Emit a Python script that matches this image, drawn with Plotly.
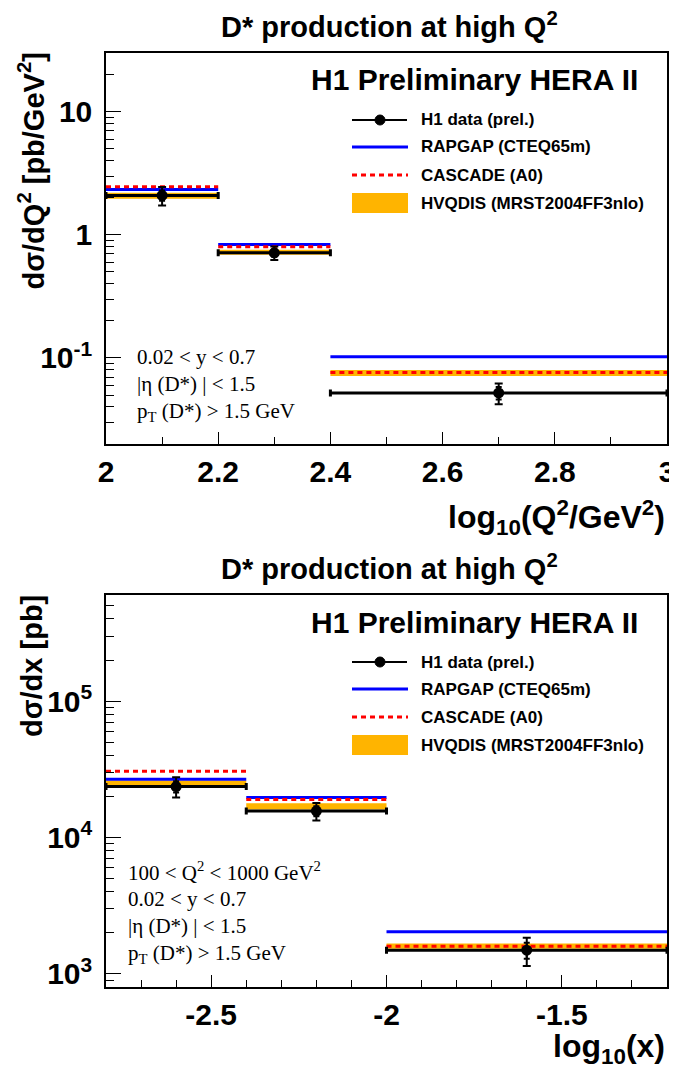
import plotly.graph_objects as go

# page body keeps an 8px default margin, so the figure is 8px smaller and coordinates are shifted
OFF = 8
W, H = 677 - OFF, 1079 - OFF

# ---------------- data ----------------
# top panel: dsigma/dQ^2 vs log10(Q^2)
q2_edges = [2.0, 2.2, 2.4, 3.0]
q2_centers = [2.1, 2.3, 2.7]
q2_data = [2.09, 0.714, 0.052]
q2_err_tot = [0.36, 0.09, 0.010]
q2_err_stat = [0.20, 0.05, 0.006]
q2_rapgap = [2.34, 0.834, 0.1025]
q2_cascade = [2.46, 0.80, 0.076]
q2_hvq_lo = [1.96, 0.69, 0.0714]
q2_hvq_hi = [2.20, 0.755, 0.0798]

# bottom panel: dsigma/dx vs log10(x)
x_edges = [-2.8, -2.4, -2.0, -1.2]
x_centers = [-2.6, -2.2, -1.6]
x_data = [23600, 15600, 1490]
x_err_tot = [4000, 2300, 350]
x_err_stat = [2200, 1300, 200]
x_rapgap = [26700, 19600, 2030]
x_cascade = [30600, 18960, 1593]
x_hvq_lo = [23900, 16000, 1525]
x_hvq_hi = [26100, 17800, 1667]

q2_ticks = [2.0, 2.2, 2.4, 2.6, 2.8, 3.0]
q2_tick_labels = ["2", "2.2", "2.4", "2.6", "2.8", "3"]
x_ticks = [-2.5, -2.0, -1.5]
x_tick_labels = ["-2.5", "-2", "-1.5"]
q2_yticks = [0.1, 1, 10]
q2_ytick_labels = ["10<sup>-1</sup>", "1", "10"]
x_yticks = [1e3, 1e4, 1e5]
x_ytick_labels = ["10<sup>3</sup>", "10<sup>4</sup>", "10<sup>5</sup>"]

legend_labels = ["H1 data (prel.)", "RAPGAP (CTEQ65m)", "CASCADE (A0)", "HVQDIS (MRST2004FF3nlo)"]

BLUE = "#0000ff"
RED = "#ff0000"
ORANGE = "#ffb400"
SANS = "Liberation Sans, Arial, Helvetica, sans-serif"
SERIF = "Liberation Serif, Times New Roman, serif"


def px(x):
    return (x - OFF) / W


def py(y):
    return 1 - (y - OFF) / H


def steps(edges, vals):
    xs, ys = [], []
    for i, v in enumerate(vals):
        xs += [edges[i], edges[i + 1], None]
        ys += [v, v, None]
    return xs, ys


def boxes(edges, lo, hi):
    xs, ys = [], []
    for i in range(len(lo)):
        a, b = edges[i], edges[i + 1]
        xs += [a, b, b, a, a, None]
        ys += [lo[i], lo[i], hi[i], hi[i], lo[i], None]
    return xs, ys


fig = go.Figure()


def add_panel(xa, ya, edges, centers, data, etot, estat, rap, cas, hlo, hhi):
    bx, by = boxes(edges, hlo, hhi)
    fig.add_trace(go.Scatter(x=bx, y=by, fill="toself", fillcolor=ORANGE, mode="none",
                             xaxis=xa, yaxis=ya, showlegend=False, hoverinfo="skip"))
    sx, sy = steps(edges, rap)
    fig.add_trace(go.Scatter(x=sx, y=sy, mode="lines", line=dict(color=BLUE, width=3),
                             xaxis=xa, yaxis=ya, showlegend=False))
    sx, sy = steps(edges, cas)
    fig.add_trace(go.Scatter(x=sx, y=sy, mode="lines", line=dict(color=RED, width=3, dash="5px,4px"),
                             xaxis=xa, yaxis=ya, showlegend=False))
    halfw = [(edges[i + 1] - edges[i]) / 2 for i in range(len(centers))]
    mids = [(edges[i + 1] + edges[i]) / 2 for i in range(len(centers))]
    # horizontal bin-width bars centred on bin middle
    fig.add_trace(go.Scatter(x=mids, y=data, mode="markers", marker=dict(size=1, color="black"),
                             error_x=dict(type="data", array=halfw, color="black", thickness=3, width=3.5),
                             xaxis=xa, yaxis=ya, showlegend=False))
    fig.add_trace(go.Scatter(x=centers, y=data, mode="markers", marker=dict(size=11, color="black"),
                             error_y=dict(type="data", array=etot, color="black", thickness=2, width=4),
                             xaxis=xa, yaxis=ya, showlegend=False))
    fig.add_trace(go.Scatter(x=centers, y=data, mode="markers", marker=dict(size=1, color="black"),
                             error_y=dict(type="data", array=estat, color="black", thickness=2, width=3),
                             xaxis=xa, yaxis=ya, showlegend=False))


add_panel("x", "y", q2_edges, q2_centers, q2_data, q2_err_tot, q2_err_stat,
          q2_rapgap, q2_cascade, q2_hvq_lo, q2_hvq_hi)
add_panel("x2", "y2", x_edges, x_centers, x_data, x_err_tot, x_err_stat,
          x_rapgap, x_cascade, x_hvq_lo, x_hvq_hi)

tickfont = dict(family=SANS, size=30, color="black", weight="bold")
axis_common = dict(showline=True, mirror=True, linecolor="black", linewidth=1.5,
                   ticks="inside", tickcolor="black", tickwidth=1, automargin=False,
                   showgrid=False, zeroline=False, tickfont=tickfont)

xdom = [px(106), px(667)]

q2_minor = [2.1, 2.3, 2.5, 2.7, 2.9]
x_minor = [-2.7, -2.6, -2.4, -2.3, -2.2, -2.1, -1.9, -1.8, -1.7, -1.6, -1.4, -1.3]
q2_yminor = [0.02, 0.03, 0.04, 0.05, 0.06, 0.07, 0.08, 0.09, 0.2, 0.3, 0.4, 0.5, 0.6, 0.7,
             0.8, 0.9, 2, 3, 4, 5, 6, 7, 8, 9, 20, 30]
x_yminor = [800, 900, 2000, 3000, 4000, 5000, 6000, 7000, 8000, 9000, 20000, 30000, 40000,
            50000, 60000, 70000, 80000, 90000, 200000, 300000, 400000, 500000, 600000]

fig.update_layout(
    width=W, height=H, autosize=False,
    margin=dict(l=0, r=0, t=0, b=0),
    paper_bgcolor="white", plot_bgcolor="white",
    showlegend=False,
    xaxis=dict(domain=xdom, anchor="y", range=[2.0, 3.0], tickvals=q2_ticks, ticktext=q2_tick_labels,
               ticklen=12, minor=dict(tickvals=q2_minor, ticks="inside", ticklen=7, tickcolor="black"),
               **axis_common),
    yaxis=dict(domain=[py(444), py(53)], anchor="x", type="log", range=[-1.699, 1.477],
               tickvals=q2_yticks, ticktext=q2_ytick_labels, ticklen=15, ticklabelstandoff=6,
               minor=dict(tickvals=q2_yminor, ticks="inside", ticklen=8, tickcolor="black"),
               **axis_common),
    xaxis2=dict(domain=xdom, anchor="y2", range=[-2.8, -1.2], tickvals=x_ticks, ticktext=x_tick_labels,
                ticklen=12, minor=dict(tickvals=x_minor, ticks="inside", ticklen=7, tickcolor="black"),
                **axis_common),
    yaxis2=dict(domain=[py(987), py(595)], anchor="x2", type="log", range=[2.903, 5.778],
                tickvals=x_yticks, ticktext=x_ytick_labels, ticklen=15, ticklabelstandoff=6,
                minor=dict(tickvals=x_yminor, ticks="inside", ticklen=8, tickcolor="black"),
                **axis_common),
)

ann = []
shapes = []


def text(x, y, s, size, family=SANS, bold=True, xanchor="left", yanchor="middle", angle=0):
    ann.append(dict(x=px(x), y=py(y), xref="paper", yref="paper", text=s, showarrow=False,
                    xanchor=xanchor, yanchor=yanchor, textangle=angle,
                    font=dict(family=family, size=size, color="black", weight="bold" if bold else "normal")))


title = "D* production at high Q<sup>2</sup>"
for top, ytitle, xtitle, xt_y, extra in [
    (53, "dσ/dQ<sup>2</sup> [pb/GeV<sup>2</sup>]", "log<sub>10</sub>(Q<sup>2</sup>/GeV<sup>2</sup>)", 517,
     ["0.02 &lt; y &lt; 0.7", "|η (D*) | &lt; 1.5", "p<sub>T</sub> (D*) &gt; 1.5 GeV"]),
    (595, "dσ/dx [pb]", "log<sub>10</sub>(x)", 1048,
     ["100 &lt; Q<sup>2</sup> &lt; 1000 GeV<sup>2</sup>", "0.02 &lt; y &lt; 0.7", "|η (D*) | &lt; 1.5",
      "p<sub>T</sub> (D*) &gt; 1.5 GeV"]),
]:
    text(390, top - 28, title, 29, xanchor="center")
    text(32, top - 2, ytitle, 29, xanchor="center", yanchor="top", angle=-90)
    text(667, xt_y, xtitle, 32, xanchor="right")
    text(640, top + 27, "H1 Preliminary HERA II", 30, xanchor="right")
    # legend
    rows = [top + 67, top + 94, top + 122, top + 150]
    shapes.append(dict(type="line", xref="paper", yref="paper", x0=px(352), x1=px(407),
                       y0=py(rows[0]), y1=py(rows[0]), line=dict(color="black", width=2)))
    shapes.append(dict(type="circle", xref="paper", yref="paper", x0=px(375), x1=px(385),
                       y0=py(rows[0] + 5), y1=py(rows[0] - 5), fillcolor="black", line=dict(color="black", width=1)))
    shapes.append(dict(type="line", xref="paper", yref="paper", x0=px(352), x1=px(408),
                       y0=py(rows[1]), y1=py(rows[1]), line=dict(color=BLUE, width=3)))
    shapes.append(dict(type="line", xref="paper", yref="paper", x0=px(352), x1=px(408),
                       y0=py(rows[2]), y1=py(rows[2]), line=dict(color=RED, width=3, dash="5px,4px")))
    shapes.append(dict(type="rect", xref="paper", yref="paper", x0=px(352), x1=px(408),
                       y0=py(rows[3] + 10), y1=py(rows[3] - 10), fillcolor=ORANGE, line=dict(width=0)))
    for r, lab in zip(rows, legend_labels):
        text(419, r, lab, 17)
    # cuts text
    n = len(extra)
    y0 = top + 304 - 28 * (n - 3) if n > 3 else top + 304
    xt = 135 if n == 3 else 126
    for i, s in enumerate(extra):
        text(xt, y0 + 27.5 * i, s, 21, family=SERIF, bold=False)

fig.update_layout(annotations=ann, shapes=shapes)

fig.write_html("out.html")
